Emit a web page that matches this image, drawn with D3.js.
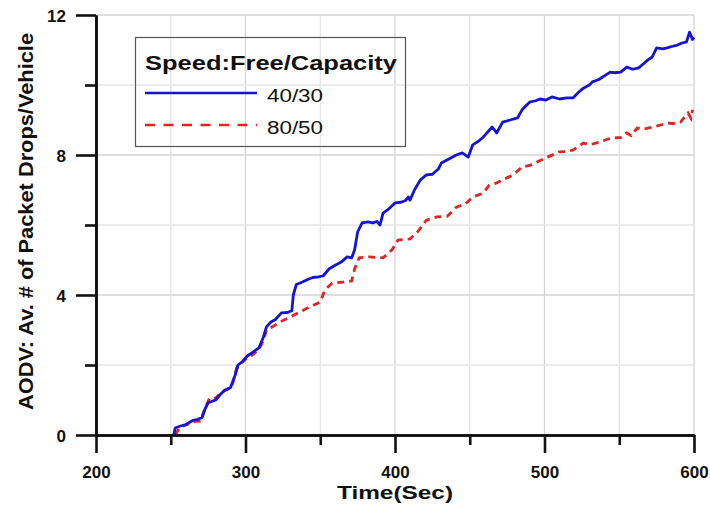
<!DOCTYPE html>
<html>
<head>
<meta charset="utf-8">
<script src="https://cdn.jsdelivr.net/npm/d3@7"></script>
<style>
  html, body { margin: 0; padding: 0; background: #fff; }
  svg { display: block; }
  text { font-family: "Liberation Sans", Arial, sans-serif; fill: #111; }
</style>
</head>
<body>
<script>
// ---- data ----
const xTicksMajor = [200, 300, 400, 500, 600];
const xTicksMinor = [250, 350, 450, 550];
const yTicksMajor = [0, 4, 8, 12];
const yTicksMinor = [2, 6, 10];
const seriesNames = ["40/30", "80/50"];
const legendTitle = "Speed:Free/Capacity";
const xTitle = "Time(Sec)";
const yTitle = "AODV: Av. # of Packet Drops/Vehicle";

const blue4030 = [[252,0],[253,0.2],[256,0.25],[260,0.3],[265,0.42],[268,0.45],[271,0.5],[273,0.75],[275,0.92],[280,1.0],[283,1.15],[286,1.28],[290,1.36],[293,1.7],[295,2.0],[298,2.1],[301,2.25],[305,2.37],[309,2.49],[312,2.8],[314,3.09],[317,3.23],[320,3.3],[324,3.49],[328,3.5],[331,3.55],[332,4.0],[334,4.3],[338,4.37],[342,4.45],[345,4.5],[349,4.52],[352,4.55],[356,4.75],[360,4.85],[364,4.94],[368,5.09],[371,5.06],[373,5.29],[375,5.8],[378,6.06],[382,6.09],[385,6.06],[388,6.1],[390,6.0],[392,6.34],[395,6.43],[400,6.63],[404,6.65],[407,6.7],[409,6.8],[410,6.71],[413,7.0],[417,7.29],[421,7.43],[425,7.45],[429,7.6],[431,7.77],[437,7.91],[441,8.0],[445,8.06],[449,7.94],[452,8.29],[456,8.4],[459,8.51],[465,8.8],[468,8.63],[472,8.94],[477,9.0],[482,9.06],[485,9.29],[490,9.51],[494,9.55],[497,9.6],[501,9.57],[505,9.66],[510,9.6],[515,9.63],[519,9.63],[523,9.8],[526,9.91],[530,10.0],[532,10.09],[536,10.15],[539,10.23],[544,10.37],[547,10.35],[551,10.37],[555,10.51],[559,10.45],[563,10.49],[566,10.6],[569,10.71],[572,10.8],[575,11.06],[579,11.03],[582,11.06],[585,11.1],[589,11.14],[592,11.2],[595,11.23],[597,11.51],[599,11.3],[600,11.36]];

const red8050 = [[253,0],[256,0.22],[260,0.28],[265,0.38],[270,0.4],[272,0.66],[276,1.06],[280,1.05],[284,1.23],[288,1.3],[291,1.4],[294,1.9],[297,2.05],[301,2.2],[305,2.3],[309,2.45],[312,2.7],[314,3.0],[318,3.09],[323,3.23],[330,3.37],[336,3.51],[343,3.66],[350,3.8],[353,4.14],[358,4.34],[365,4.37],[371,4.4],[373,4.75],[376,5.06],[383,5.09],[392,5.06],[398,5.29],[402,5.57],[410,5.6],[415,5.8],[421,6.14],[428,6.23],[435,6.25],[441,6.51],[447,6.6],[452,6.8],[459,6.91],[463,7.14],[468,7.2],[472,7.29],[479,7.43],[485,7.66],[490,7.7],[495,7.8],[502,7.94],[510,8.09],[515,8.1],[519,8.14],[526,8.34],[531,8.3],[537,8.37],[542,8.45],[546,8.49],[551,8.5],[555,8.63],[558,8.55],[562,8.77],[567,8.75],[573,8.8],[577,8.85],[582,8.91],[586,8.9],[591,8.94],[594,9.1],[596,9.2],[598,9.05],[599,9.29]];

// ---- chart ----
const W = 710, H = 508;
const svg = d3.select("body").append("svg").attr("width", W).attr("height", H);

const x = d3.scaleLinear().domain([200, 600]).range([96, 694]);
const y = d3.scaleLinear().domain([0, 12]).range([435, 15]);

// grid
const grid = svg.append("g");
const allX = xTicksMajor.concat(xTicksMinor);
grid.selectAll("line.gx").data(allX).enter().append("line")
  .attr("x1", d => x(d)).attr("x2", d => x(d))
  .attr("y1", y(0)).attr("y2", y(12))
  .attr("stroke", d => xTicksMajor.includes(d) ? "#d4d4d4" : "#e6e6e6")
  .attr("stroke-width", 1.3);
const allY = yTicksMajor.concat(yTicksMinor);
grid.selectAll("line.gy").data(allY).enter().append("line")
  .attr("x1", x(200)).attr("x2", x(600))
  .attr("y1", d => y(d)).attr("y2", d => y(d))
  .attr("stroke", d => yTicksMajor.includes(d) ? "#d4d4d4" : "#e6e6e6")
  .attr("stroke-width", 1.3);

// lines
const line = d3.line().x(d => x(d[0])).y(d => y(d[1]));
svg.append("path").datum(red8050).attr("d", line)
  .attr("fill", "none").attr("stroke", "#e02424").attr("stroke-width", 2.8)
  .attr("stroke-dasharray", "7,5");
svg.append("path").datum(blue4030).attr("d", line)
  .attr("fill", "none").attr("stroke", "#1414d2").attr("stroke-width", 2.8)
  .attr("stroke-linejoin", "round");

// axes
function styleAxis(g) {
  g.selectAll("path.domain").attr("stroke", "#111").attr("stroke-width", 2.6);
  g.selectAll(".tick line").attr("stroke", "#111").attr("stroke-width", 2.6);
}
const xMinor = svg.append("g").attr("transform", `translate(0,${y(0)})`)
  .call(d3.axisBottom(x).tickValues(xTicksMinor).tickSize(10).tickSizeOuter(0).tickFormat(""));
styleAxis(xMinor);
const xAx = svg.append("g").attr("transform", `translate(0,${y(0)})`)
  .call(d3.axisBottom(x).tickValues(xTicksMajor).tickSize(18).tickSizeOuter(0).tickPadding(12));
styleAxis(xAx);
xAx.selectAll(".tick text")
  .attr("font-size", 17).attr("font-weight", "bold").attr("fill", "#111")
  .attr("y", 43).attr("dy", null);

const yMinor = svg.append("g").attr("transform", `translate(${x(200)},0)`)
  .call(d3.axisLeft(y).tickValues(yTicksMinor).tickSize(11).tickSizeOuter(0).tickFormat(""));
styleAxis(yMinor);
const yAx = svg.append("g").attr("transform", `translate(${x(200)},0)`)
  .call(d3.axisLeft(y).tickValues(yTicksMajor).tickSize(20).tickSizeOuter(0).tickPadding(10));
styleAxis(yAx);
yAx.selectAll(".tick text")
  .attr("font-size", 17).attr("font-weight", "bold").attr("fill", "#111")
  .attr("x", -30).attr("dy", "0.36em");

// titles
svg.append("text").attr("x", 395).attr("y", 499)
  .attr("text-anchor", "middle").attr("font-size", 19).attr("font-weight", "bold")
  .attr("textLength", 116).attr("lengthAdjust", "spacingAndGlyphs")
  .text(xTitle);
svg.append("text").attr("transform", "translate(33,221.5) rotate(-90)")
  .attr("text-anchor", "middle").attr("font-size", 20).attr("font-weight", "bold")
  .attr("textLength", 377).attr("lengthAdjust", "spacingAndGlyphs")
  .text(yTitle);

// legend
const lg = svg.append("g");
lg.append("rect").attr("x", 135.5).attr("y", 37.5).attr("width", 270).attr("height", 109)
  .attr("fill", "none").attr("stroke", "#555").attr("stroke-width", 1.2);
lg.append("text").attr("x", 145).attr("y", 70).attr("font-size", 20).attr("font-weight", "bold")
  .attr("textLength", 252).attr("lengthAdjust", "spacingAndGlyphs").text(legendTitle);
const legendStyles = [
  { color: "#1414d2", dash: null, ly: 93 },
  { color: "#e02424", dash: "10,8.5", ly: 125 }
];
seriesNames.forEach((name, i) => {
  const s = legendStyles[i];
  lg.append("line").attr("x1", 145).attr("x2", 257).attr("y1", s.ly).attr("y2", s.ly)
    .attr("stroke", s.color).attr("stroke-width", 2.6)
    .attr("stroke-dasharray", s.dash);
  lg.append("text").attr("x", 267).attr("y", s.ly + 9).attr("font-size", 18)
    .attr("fill", "#222")
    .attr("textLength", 56).attr("lengthAdjust", "spacingAndGlyphs").text(name);
});
</script>
</body>
</html>
